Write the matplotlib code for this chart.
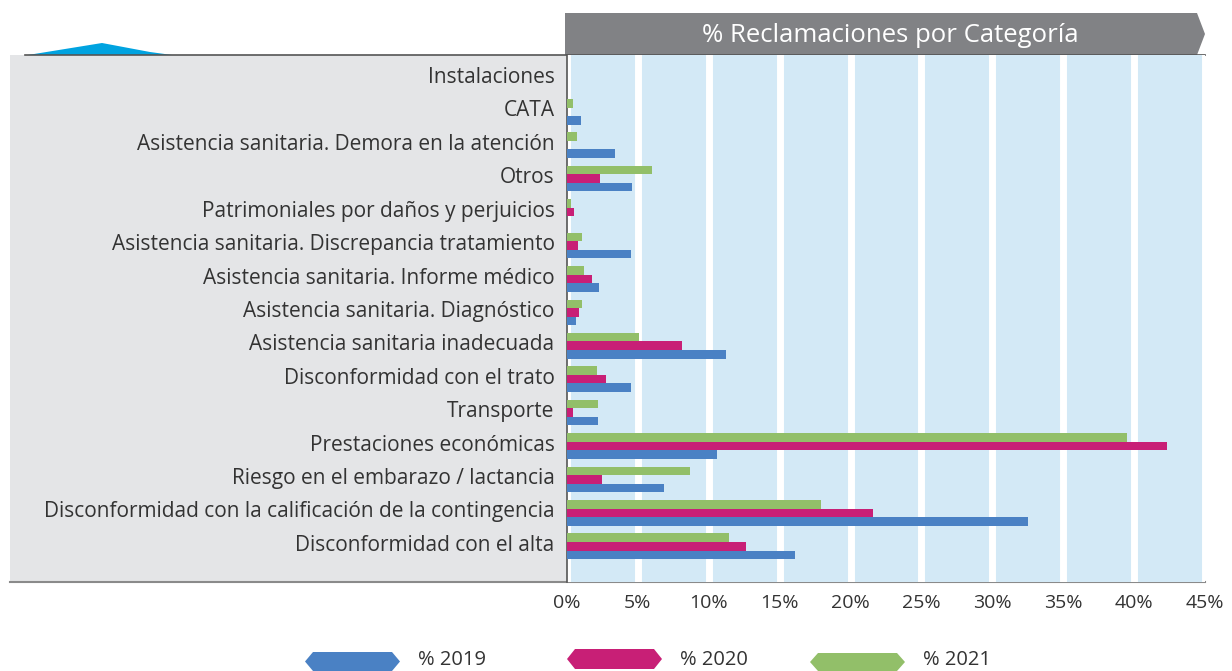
import numpy as np
import matplotlib.pyplot as plt
from matplotlib.patches import Polygon, Rectangle

plt.rcParams['font.family'] = ['Open Sans', 'DejaVu Sans']

categories = ["Instalaciones", "CATA", "Asistencia sanitaria. Demora en la atención", "Otros",
              "Patrimoniales por daños y perjuicios", "Asistencia sanitaria. Discrepancia tratamiento",
              "Asistencia sanitaria. Informe médico", "Asistencia sanitaria. Diagnóstico",
              "Asistencia sanitaria inadecuada", "Disconformidad con el trato", "Transporte",
              "Prestaciones económicas", "Riesgo en el embarazo / lactancia",
              "Disconformidad con la calificación de la contingencia", "Disconformidad con el alta"]
pct_2019 = [0, 1.0, 3.4, 4.6, 0, 4.5, 2.25, 0.6, 11.2, 4.5, 2.2, 10.6, 6.85, 32.5, 16.1]
pct_2020 = [0, 0, 0, 2.3, 0.5, 0.75, 1.75, 0.85, 8.1, 2.75, 0.4, 42.3, 2.5, 21.6, 12.6]
pct_2021 = [0, 0.4, 0.7, 6.0, 0.3, 1.05, 1.2, 1.05, 5.1, 2.1, 2.2, 39.5, 8.7, 17.9, 11.4]
years = ["% 2019", "% 2020", "% 2021"]
xticks = [0, 5, 10, 15, 20, 25, 30, 35, 40, 45]

c2019, c2020, c2021 = "#4a81c4", "#c81f76", "#92bf69"
W, H = 1232, 671

fig = plt.figure(figsize=(W / 100, H / 100), dpi=100)

# background decorations in pixel coordinates
bg = fig.add_axes([0, 0, 1, 1], zorder=0)
bg.set_xlim(0, W)
bg.set_ylim(H, 0)
bg.axis("off")
bg.add_patch(Rectangle((10, 55), 557, 527, color="#e4e5e7", lw=0))
bg.plot([25, 1205], [55, 55], color="#555555", lw=1.2)
bg.plot([10, 1205], [582, 582], color="#8a8a8a", lw=1.5)
bg.add_patch(Polygon([(565, 13), (1197, 13), (1205, 34), (1197, 55), (565, 55)], color="#818285", lw=0))
bg.add_patch(Polygon([(28, 55), (102, 43), (150, 52), (172, 55)], color="#00a3e0", lw=0))
bg.text(890, 35, "% Reclamaciones por Categoría", color="white", fontsize=18.5, ha="center", va="center")

leg_x = [(305, 400), (567, 662), (810, 905)]
leg_y = [(652, 671), (649, 669), (653, 671)]
for (x0, x1), (y0, y1), col, lab in zip(leg_x, leg_y, [c2019, c2020, c2021], years):
    yc = (y0 + y1) / 2
    bg.add_patch(Polygon([(x0, yc), (x0 + 8, y0), (x1 - 8, y0), (x1, yc), (x1 - 8, y1), (x0 + 8, y1)],
                         color=col, lw=0))
    bg.text(x1 + 18, 660, lab, fontsize=14.5, color="#333333", va="center", ha="left")

# main chart
ax = fig.add_axes([567 / W, 1 - 582 / H, (1205 - 567) / W, (582 - 55) / H], zorder=1)
ax.set_facecolor("#d3e9f6")
y = np.arange(len(categories))
h = 0.255
off = 0.1
ax.barh(y + off - h, pct_2021, height=h, color=c2021, zorder=3)
ax.barh(y + off, pct_2020, height=h, color=c2020, zorder=3)
ax.barh(y + off + h, pct_2019, height=h, color=c2019, zorder=3)

ax.set_xlim(0, 45)
ax.set_ylim(15.17, -0.6)
ax.set_xticks(xticks)
ax.set_xticklabels([f"{t}%" for t in xticks])
ax.set_yticks(y)
ax.set_yticklabels(categories)
ax.tick_params(axis="y", length=0, pad=9, labelsize=15, labelcolor="#333333")
ax.tick_params(axis="x", length=0, pad=9, labelsize=14, labelcolor="#333333")
ax.grid(axis="x", color="white", lw=5, zorder=1)
ax.set_axisbelow(True)
for s in ["top", "right", "bottom"]:
    ax.spines[s].set_visible(False)
ax.spines["left"].set_color("#555555")
ax.spines["left"].set_linewidth(1.2)

fig.savefig("out.png", dpi=100)
